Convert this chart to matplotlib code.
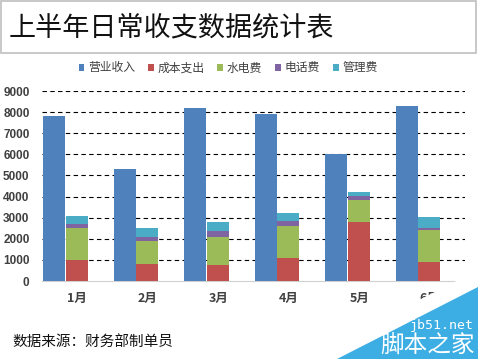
import matplotlib.pyplot as plt
from matplotlib.patches import Patch, Rectangle, Polygon
import numpy as np

plt.rcParams['font.family'] = ['Noto Sans CJK SC', 'DejaVu Sans']

# 数据
months = ['1月', '2月', '3月', '4月', '5月', '6月']
income = [7800, 5300, 8200, 7900, 6000, 8300]
cost = [1000, 800, 750, 1100, 2800, 900]
utility = [1500, 1100, 1350, 1500, 1050, 1500]
phone = [200, 200, 270, 250, 180, 100]
manage = [400, 400, 430, 350, 200, 550]
series_names = ['营业收入', '成本支出', '水电费', '电话费', '管理费']
colors = ['#4F81BD', '#C0504D', '#9BBB59', '#8064A2', '#4BACC6']

W, H = 478, 359


def px(x, y):
    # пиксели картинки -> координаты фигуры
    return x / W, 1 - y / H


fig = plt.figure(figsize=(W / 100, H / 100), dpi=100)

# рамка заголовка
fig.patches.append(Rectangle(px(1, 53), 475 / W, 52 / H, transform=fig.transFigure,
                             fill=False, edgecolor='#BFBFBF', linewidth=1.2))
fig.text(*px(9, 28), '上半年日常收支数据统计表', fontsize=19.5, va='center', ha='left',
         color='#111111')

# область графика
ax = fig.add_axes([42 / W, 78 / H, 423 / W, 190 / H])
x = np.arange(len(months))
w = 0.31
ax.bar(x - 0.48, income, width=w, align='edge', color=colors[0], zorder=3)
bottom = np.zeros(len(months))
for vals, c in zip([cost, utility, phone, manage], colors[1:]):
    ax.bar(x - 0.16, vals, width=w, bottom=bottom, align='edge', color=c, zorder=3)
    bottom += np.array(vals)

ax.set_xlim(-0.5, len(months) - 0.5)
ax.set_ylim(0, 9000)
ax.set_yticks(range(0, 9001, 1000))
for yv in range(1000, 9001, 1000):
    ax.axhline(yv, color='black', linewidth=0.8, linestyle=(0, (4, 3)), zorder=1)
ax.set_xticks(x)
ax.set_xticklabels(months)
ax.tick_params(length=0)
ax.tick_params(axis='y', pad=9)
ax.tick_params(axis='x', pad=8)
for lab in ax.get_yticklabels():
    lab.set_family(['Liberation Sans Narrow', 'Liberation Sans', 'DejaVu Sans'])
    lab.set_fontweight('bold')
    lab.set_fontsize(8.5)
    lab.set_color('#404040')
for lab in ax.get_xticklabels():
    lab.set_fontweight('bold')
    lab.set_fontsize(9)
    lab.set_color('#404040')
for s in ['top', 'right', 'left']:
    ax.spines[s].set_visible(False)
ax.spines['bottom'].set_color('#D0D0D0')

# легенда
handles = [Patch(facecolor=c, edgecolor='none') for c in colors]
fig.legend(handles, series_names, loc='center', bbox_to_anchor=px(228, 68), ncol=5,
           frameon=False, fontsize=8.5, handlelength=0.5, handleheight=0.5,
           handletextpad=0.3, columnspacing=1.1, labelcolor='#404040')

fig.text(*px(12, 342), '数据来源：财务部制单员', fontsize=10.5, va='center', ha='left',
         color='#111111')

# водяной знак
fig.patches.append(Polygon([px(303, 359), px(478, 270), px(478, 287), px(337, 359)],
                           closed=True, transform=fig.transFigure, facecolor='white',
                           edgecolor='none', zorder=5))
fig.patches.append(Polygon([px(337, 359), px(478, 287), px(478, 359)], closed=True,
                           transform=fig.transFigure, facecolor='#3DAEE3',
                           edgecolor='none', zorder=6))
fig.text(*px(474, 326), 'jb51.net', fontsize=9.5, ha='right', va='center', color='white',
         family='DejaVu Sans Mono', zorder=7)
fig.text(*px(475, 345), '脚本之家', fontsize=17, ha='right', va='center', color='white',
         zorder=7)

fig.savefig('out.png', dpi=100)
